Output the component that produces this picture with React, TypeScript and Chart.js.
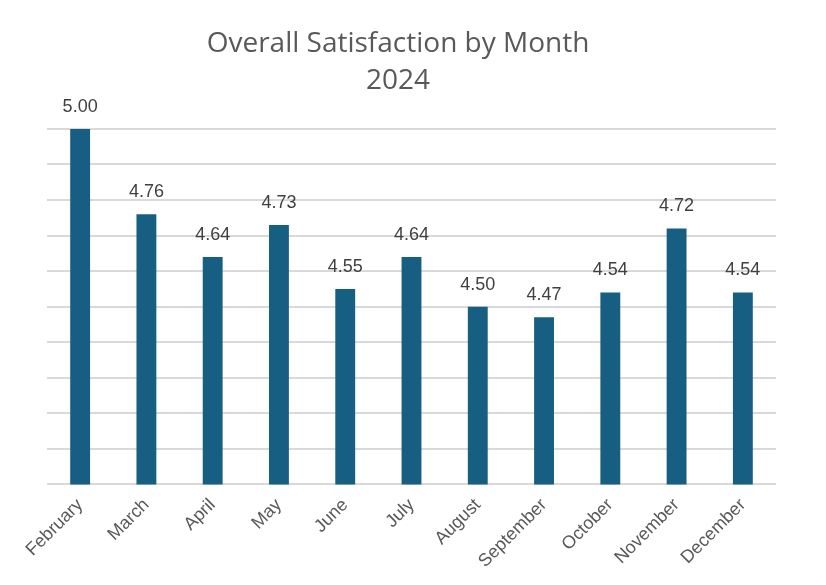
import React, { useEffect, useRef } from "react";
import { Chart, registerables } from "chart.js";

Chart.register(...registerables);

const months = ["February", "March", "April", "May", "June", "July", "August", "September", "October", "November", "December"];
const satisfaction = [5.0, 4.76, 4.64, 4.73, 4.55, 4.64, 4.5, 4.47, 4.54, 4.72, 4.54];
const titleLines = ["Overall Satisfaction by Month", "2024"];
const yMin = 4.0;
const yMax = 5.0;
const yStep = 0.1;

const valueLabels = {
  id: "valueLabels",
  afterDatasetsDraw(chart: any) {
    const ctx = chart.ctx;
    const meta = chart.getDatasetMeta(0);
    ctx.save();
    ctx.font = "18px 'Liberation Sans', Arial, sans-serif";
    ctx.fillStyle = "#404040";
    ctx.textAlign = "center";
    ctx.textBaseline = "bottom";
    meta.data.forEach((bar: any, i: number) => {
      ctx.fillText(satisfaction[i].toFixed(2), bar.x, bar.y - 13);
    });
    ctx.restore();
  },
};

export default function App() {
  const ref = useRef<HTMLCanvasElement>(null);
  useEffect(() => {
    document.body.style.margin = "0";
    const chart = new Chart(ref.current!, {
      type: "bar",
      data: {
        labels: months,
        datasets: [
          {
            data: satisfaction,
            backgroundColor: "#175f82",
            barPercentage: 0.6,
            categoryPercentage: 0.5,
          },
        ],
      },
      options: {
        animation: false,
        responsive: false,
        layout: { padding: { left: 20, right: 50, top: 0, bottom: 11 } },
        plugins: {
          legend: { display: false },
          tooltip: { enabled: false },
          title: {
            display: true,
            text: titleLines,
            color: "#595959",
            font: { family: "'Open Sans', sans-serif", size: 28, weight: "normal", lineHeight: 1.32 },
            padding: { top: 26, bottom: 29 },
          },
        },
        scales: {
          x: {
            grid: { display: false },
            border: { display: false },
            ticks: {
              color: "#595959",
              font: { family: "'Liberation Sans', Arial, sans-serif", size: 18 },
              maxRotation: 45,
              minRotation: 45,
              padding: 2,
            },
          },
          y: {
            min: yMin,
            max: yMax,
            ticks: { display: false, stepSize: yStep },
            grid: { color: "#d9d9d9", lineWidth: 2, drawTicks: false },
            border: { display: false },
            afterFit: (scale: any) => {
              scale.width = 27;
            },
          },
        },
      },
      plugins: [valueLabels],
    });
    return () => chart.destroy();
  }, []);
  return <canvas ref={ref} width={826} height={585} style={{ display: "block" }} />;
}
